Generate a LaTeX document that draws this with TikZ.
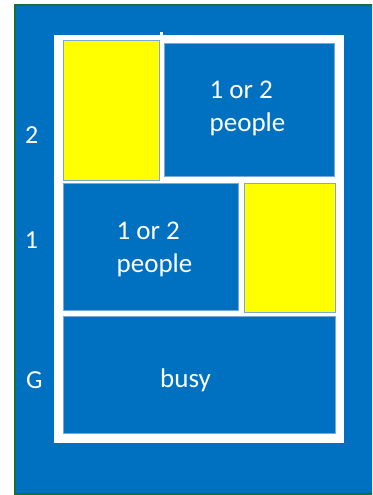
\documentclass[tikz,border=0pt]{standalone}
\usepackage{fontspec}
\setmainfont{Carlito}
\usepackage{tikz}
\definecolor{planblue}{HTML}{0070C0}
\definecolor{planyellow}{HTML}{FFFF00}
\definecolor{planedge}{HTML}{7EA6D8}
\definecolor{planborder}{HTML}{17703A}
\tikzset{
    room/.style={rectangle, fill=planblue, draw=planedge, line width=0.6pt, inner sep=0pt, outer sep=0pt},
    freeroom/.style={room, fill=planyellow},
    roomtext/.style={align=left, text=white, font=\fontsize{27}{33}\selectfont, inner sep=0pt},
    floorlabel/.style={text=white, font=\fontsize{26}{30}\selectfont, inner sep=0pt}
}

\begin{document}
\begin{tikzpicture}[x=1pt, y=-1pt]
            \clip (0,0) rectangle (372,495);

            % ---------------- outside ----------------
            \fill[planblue] (15,5) rectangle (380,493.5);
            \draw[planborder, line width=2pt] (15,5) rectangle (380,493.5);
            \fill[white] (54,35) rectangle (344,442.7);
            \fill[white] (159.5,32.5) rectangle (162.5,36);

            % ---------------- floor 2 ----------------
            \node[freeroom, minimum width=96pt, minimum height=140pt] (free2) at (111.3,110) {};
            \node[room, minimum width=170pt, minimum height=133.4pt] (room2) at (249.3,110) {};
            \node[roomtext] (text2) at (247.5,108) {1 or 2\\people};

            % ---------------- floor 1 ----------------
            \node[room, minimum width=175.3pt, minimum height=126.7pt] (room1) at (150.7,246.7) {};
            \node[freeroom, minimum width=91.4pt, minimum height=129.7pt] (free1) at (290,247.8) {};
            \node[roomtext] (text1) at (154.5,249.5) {1 or 2\\people};

            % ---------------- ground ----------------
            \node[room, minimum width=271.7pt, minimum height=117.3pt] (roomG) at (199.2,374.7) {};
            \node[roomtext] (textG) at (185.5,380.5) {busy};

            % ---------------- floor labels ----------------
            \node[floorlabel] (lab2) at (31.7,135) {2};
            \node[floorlabel] (lab1) at (31.4,240.5) {1};
            \node[floorlabel] (labG) at (34.3,380.5) {G};
        \end{tikzpicture}
\end{document}
